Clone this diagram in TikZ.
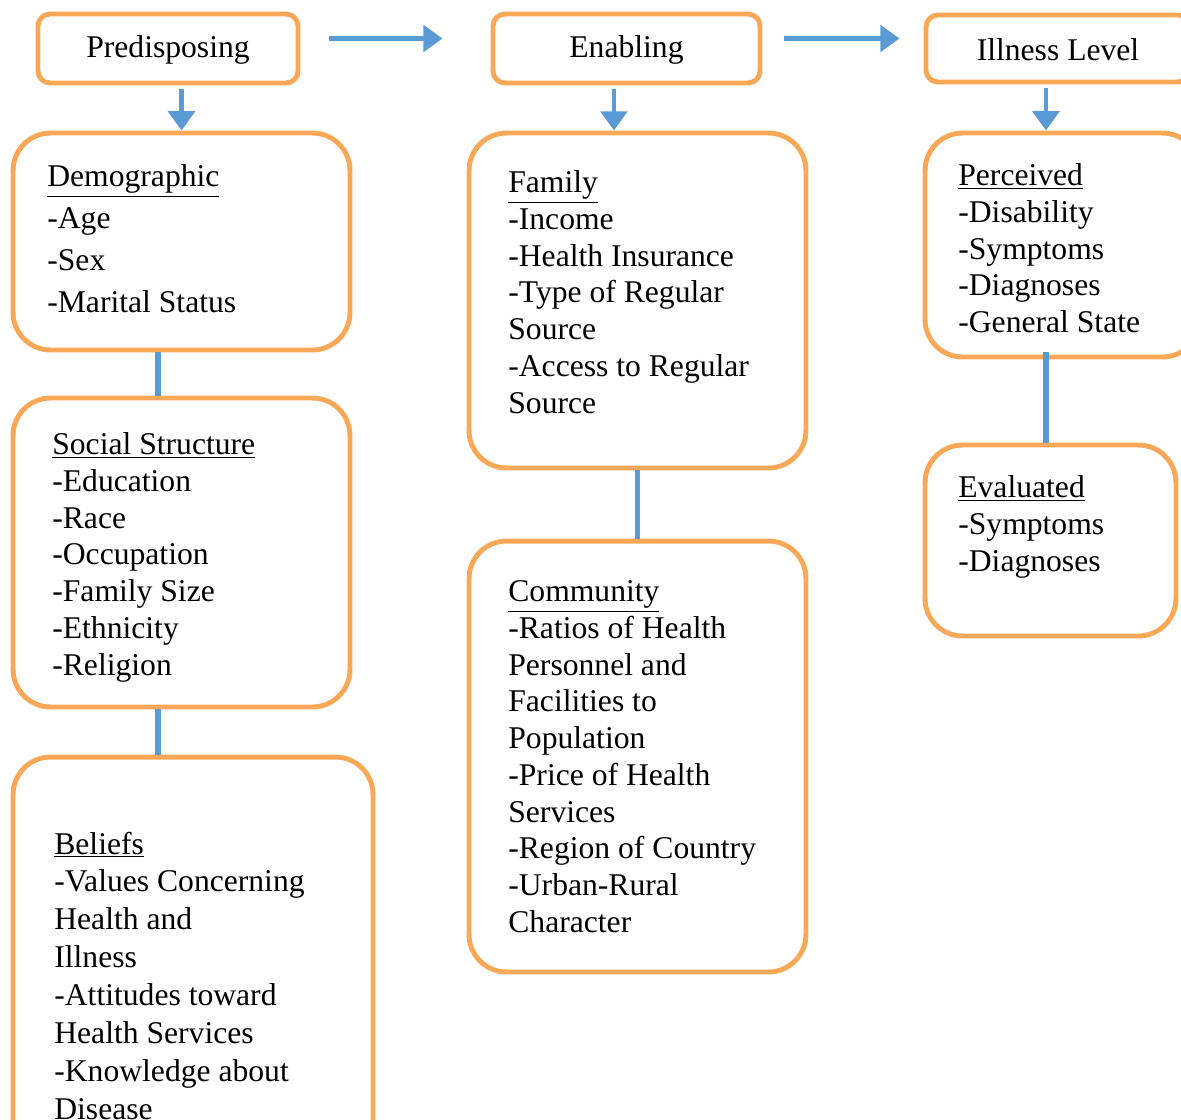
\documentclass[tikz,border=0pt]{standalone}
\usepackage{fontspec}
\setmainfont{Liberation Serif}
\usetikzlibrary{arrows.meta}
\definecolor{boxorange}{RGB}{248,168,86}
\definecolor{linkblue}{RGB}{91,155,213}

\begin{document}
\begin{tikzpicture}[
        x=0.02cm, y=-0.02cm,
        head/.style = {draw=boxorange, line width=2.8pt, rounded corners=0.24cm, text height=14pt, font=\fontsize{18}{21}\selectfont},
        box/.style = {draw=boxorange, line width=2.8pt, rounded corners=0.75cm},
        items/.style = {anchor=north west, inner sep=0pt, align=left, font=\fontsize{18}{20.9}\selectfont},
        arr/.style = {draw=linkblue, line width=2.8pt, -{Triangle[length=11pt,width=15pt]}},
        link/.style = {draw=linkblue, line width=3pt}
    ]
 \useasboundingbox (0,0) rectangle (1181,1120);
 \clip (0,0) rectangle (1181,1120);

 \node[head, minimum width=5.2cm, minimum height=1.38cm] (pre) at (168,48.5) {Predisposing};
 \node[head, minimum width=5.34cm, minimum height=1.38cm] (enb) at (626.5,48.5) {Enabling};
 \node[head, minimum width=5.28cm, minimum height=1.34cm] (ill) at (1058,48.5) {Illness Level};

 \node[box, minimum width=6.74cm, minimum height=4.34cm] (dem) at (181.5,241.5) {};
 \node[box, minimum width=6.74cm, minimum height=6.18cm] (soc) at (181.5,552.5) {};
 \node[box, minimum width=7.2cm, minimum height=8.86cm] (bel) at (193,978.5) {};
 \node[box, minimum width=6.74cm, minimum height=6.7cm] (fam) at (637.5,300.5) {};
 \node[box, minimum width=6.74cm, minimum height=8.62cm] (com) at (637.5,756.5) {};
 \node[box, minimum width=5.5cm, minimum height=4.48cm] (per) at (1062.5,245) {};
 \node[box, minimum width=5.02cm, minimum height=3.82cm] (eva) at (1050.5,540.5) {};

 \node[items, font=\fontsize{18}{23.9}\selectfont] (demtxt) at (47,164.4)
     {\underline{Demographic}\\-Age\\-Sex\\-Marital Status};
 \node[items] (soctxt) at (52,432.4)
     {\underline{Social Structure}\\-Education\\-Race\\-Occupation\\-Family Size\\-Ethnicity\\-Religion};
 \node[items, font=\fontsize{18}{21.6}\selectfont] (beltxt) at (54,831.4)
     {\underline{Beliefs}\\-Values Concerning\\Health and\\Illness\\-Attitudes toward\\Health Services\\-Knowledge about\\Disease};
 \node[items] (famtxt) at (508,170.4)
     {\underline{Family}\\-Income\\-Health Insurance\\-Type of Regular\\Source\\-Access to Regular\\Source};
 \node[items] (comtxt) at (508,580.4)
     {\underline{Community}\\-Ratios of Health\\Personnel and\\Facilities to\\Population\\-Price of Health\\Services\\-Region of Country\\-Urban-Rural\\Character};
 \node[items] (pertxt) at (958,163.4)
     {\underline{Perceived}\\-Disability\\-Symptoms\\-Diagnoses\\-General State};
 \node[items] (evatxt) at (958,475.4)
     {\underline{Evaluated}\\-Symptoms\\-Diagnoses};

 \draw[arr] ([xshift=0.58cm,yshift=0.2cm]pre.east) -- ([xshift=-0.96cm,yshift=0.2cm]enb.west);
 \draw[arr] ([xshift=0.44cm,yshift=0.2cm]enb.east) -- ([xshift=-0.48cm,yshift=0.2cm]ill.west);
 \draw[arr] ([yshift=-0.08cm]pre.south -| dem.north) -- (dem.north);
 \draw[arr] ([xshift=-0.25cm,yshift=-0.08cm]enb.south) -- ([xshift=-0.25cm]enb.south |- fam.north);
 \draw[arr] ([xshift=-0.24cm,yshift=-0.08cm]ill.south) -- ([xshift=-0.24cm]ill.south |- per.north);

 \draw[link] ([xshift=-0.47cm]dem.south) -- ([xshift=-0.47cm]dem.south |- soc.north);
 \draw[link] ([xshift=-0.47cm]soc.south) -- ([xshift=-0.47cm]soc.south |- bel.north);
 \draw[link] (fam.south) -- (com.north);
 \draw[link] ([xshift=-0.33cm,yshift=0.14cm]per.south) -- ([xshift=-0.33cm]per.south |- eva.north);
\end{tikzpicture}
\end{document}
